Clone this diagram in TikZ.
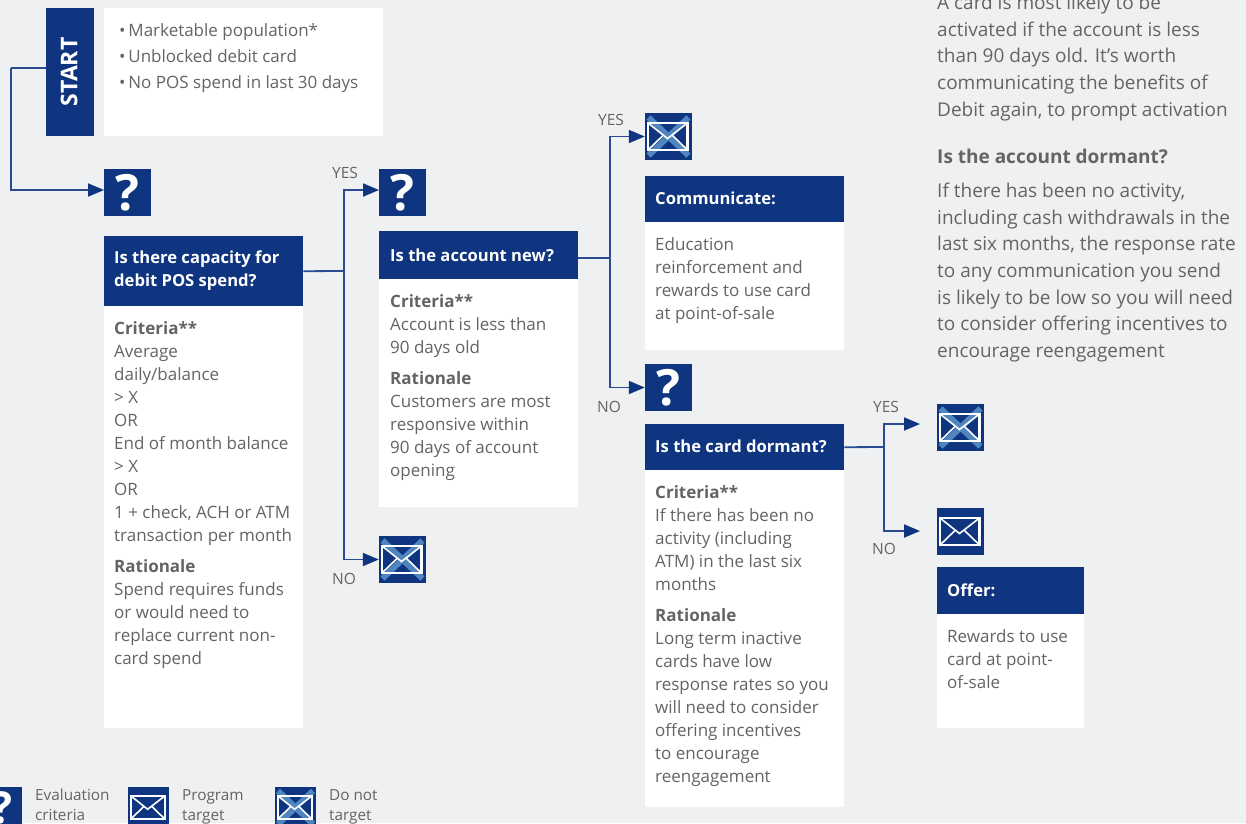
\documentclass[tikz,border=0pt]{standalone}
\usepackage{fontspec}
\setmainfont{Open Sans}
\usetikzlibrary{arrows.meta}
\definecolor{navy}{HTML}{0F3580}
\definecolor{bgc}{HTML}{EFF0F2}
\definecolor{txt}{HTML}{636466}
\definecolor{xblue}{HTML}{4F86C0}
\definecolor{linec}{HTML}{2A4B92}
\newcommand{\bodyf}{\fontsize{17}{23}\selectfont}
\newcommand{\sidef}{\fontsize{19}{26.6}\selectfont}
\newcommand{\headf}{\fontsize{16.6}{23}\selectfont\bfseries}
\newcommand{\crit}[1]{{\bfseries #1}}
\newcommand{\iconbase}[4]{\node[iconbox,minimum size=#4pt] (#1) at (#2,#3) {};}
\newcommand{\envelope}[3][47]{%
 \begin{scope}[shift={(#2,#3)},scale=#1/47]
 \draw[envl] (-20.5,-13.5) rectangle (19,13.5);
 \draw[envt] (-20.5,-13.5) -- (-1,2) -- (19,-13.5);
 \draw[envt] (-20.5,13.5) -- (-5,-1.5);
 \draw[envt] (19,13.5) -- (3.5,-1.5);
 \end{scope}}
\newcommand{\crossed}[3][47]{%
 \begin{scope}[shift={(#2,#3)},scale=#1/47]
 \draw[xl] (-20,-19) -- (20,19);
 \draw[xl] (20,-19) -- (-20,19);
 \end{scope}}
\tikzset{
 x=1pt,y=-1pt,
 panel/.style={fill=white,draw=none,anchor=north west,inner sep=0pt},
 iconbox/.style={fill=navy,inner sep=0pt,draw=none},
 qmark/.style={iconbox,minimum size=47pt,text=white,font=\fontsize{50}{50}\selectfont\bfseries},
 envl/.style={draw=white,line width=2.2pt},
 envt/.style={draw=white,line width=1.6pt},
 xl/.style={draw=xblue,line width=6pt},
 conn/.style={draw=linec,line width=1.8pt},
 arr/.style={conn,-{Triangle[length=16pt,width=13pt,color=navy]}},
 tb/.style={anchor=north west,inner sep=0pt,text=txt,align=left,font=\bodyf},
 sb/.style={anchor=north west,inner sep=0pt,text=txt,align=left,font=\sidef},
 yn/.style={inner sep=0pt,text=txt,font=\fontsize{15.5}{18}\selectfont},
 lg/.style={anchor=north west,inner sep=0pt,text=txt,align=left,font=\fontsize{15.3}{20}\selectfont},
}
\begin{document}
\begin{tikzpicture}
\clip (0,0) rectangle (1246,823);
\useasboundingbox (0,0) rectangle (1246,823);
\fill[bgc] (0,0) rectangle (1246,823);

\node[fill=navy,text=white,minimum width=128pt,minimum height=48pt,inner sep=0pt,rotate=90,font=\fontsize{23}{26}\selectfont\bfseries] (start) at (70,72) {\raisebox{2pt}{START}};
\node[panel,minimum width=279pt,minimum height=128pt] (startp) at (104,8) {};
\node[tb] (startt) at (119,23) {\textbullet\,Marketable population*\\[3pt]\textbullet\,Unblocked debit card\\[3pt]\textbullet\,No POS spend in last 30 days};

\node[qmark] (q1) at (127.5,192.5) {?};
\node[qmark] (q2) at (402.5,192.5) {?};
\node[qmark] (q3) at (668.5,387.5) {?};

\node[panel,minimum width=199pt,minimum height=422pt] (b1) at (104,306) {};
\node[fill=navy,minimum width=199pt,minimum height=70pt,anchor=north west,inner sep=0pt] (h1) at (104,236) {};
\node[anchor=west,inner sep=0pt,text=white,align=left,font=\headf] (h1t) at (114,271) {Is there capacity for\\debit POS spend?};
\node[tb] (t1) at (114,321) {\crit{Criteria**}\\Average\\daily/balance\\> X\\OR\\End of month balance\\> X\\OR\\1 + check, ACH or ATM\\transaction per month\\[8pt]\crit{Rationale}\\Spend requires funds\\or would need to\\replace current non-\\card spend};

\node[panel,minimum width=199pt,minimum height=228pt] (b2) at (379,279) {};
\node[fill=navy,minimum width=199pt,minimum height=48pt,anchor=north west,inner sep=0pt] (h2) at (379,231) {};
\node[anchor=west,inner sep=0pt,text=white,font=\headf] (h2t) at (390,255) {Is the account new?};
\node[tb] (t2) at (390,294) {\crit{Criteria**}\\Account is less than\\90 days old\\[8pt]\crit{Rationale}\\Customers are most\\responsive within\\90 days of account\\opening};

\node[panel,minimum width=199pt,minimum height=128pt] (b3) at (645,222) {};
\node[fill=navy,minimum width=199pt,minimum height=46pt,anchor=north west,inner sep=0pt] (h3) at (645,176) {};
\node[anchor=west,inner sep=0pt,text=white,font=\headf] (h3t) at (655,198) {Communicate:};
\node[tb] (t3) at (655,237) {Education\\reinforcement and\\rewards to use card\\at point-of-sale};

\node[panel,minimum width=199pt,minimum height=337pt] (b4) at (645,470) {};
\node[fill=navy,minimum width=199pt,minimum height=46pt,anchor=north west,inner sep=0pt] (h4) at (645,424) {};
\node[anchor=west,inner sep=0pt,text=white,font=\headf] (h4t) at (655,446) {Is the card dormant?};
\node[tb] (t4) at (655,485) {\crit{Criteria**}\\If there has been no\\activity (including\\ATM) in the last six\\months\\[8pt]\crit{Rationale}\\Long term inactive\\cards have low\\response rates so you\\will need to consider\\offering incentives\\to encourage\\reengagement};

\node[panel,minimum width=147pt,minimum height=114pt] (b5) at (937,614) {};
\node[fill=navy,minimum width=147pt,minimum height=47pt,anchor=north west,inner sep=0pt] (h5) at (937,567) {};
\node[anchor=west,inner sep=0pt,text=white,font=\headf] (h5t) at (947,590) {Offer:};
\node[tb] (t5) at (947,629) {Rewards to use\\card at point-\\of-sale};

\iconbase{m1}{402.5}{559.5}{47}\crossed{402.5}{559.5}\envelope{402.5}{559.5}
\iconbase{m2}{668.5}{136.5}{47}\crossed{668.5}{136.5}\envelope{668.5}{136.5}
\iconbase{m3}{960.5}{427.5}{47}\crossed{960.5}{427.5}\envelope{960.5}{427.5}
\iconbase{m4}{960.5}{531.5}{47}\envelope{960.5}{531.5}

\coordinate (j0) at (11,68);
\coordinate (j1) at (344,271);
\coordinate (j2) at (610,258);
\coordinate (j3) at (884,447);
\coordinate (e1) at (104,190);
\coordinate (e2) at (379,190);
\coordinate (e3) at (920,424);
\coordinate (e4) at (920,531);
\draw[conn] (start.north |- 0,68) -- (j0);
\draw[arr] (j0) |- (e1);
\draw[conn] (h1.east) -- (j1);
\draw[arr] (j1) |- (e2);
\draw[arr] (j1) |- (m1.west);
\draw[conn] (h2.east |- j2) -- (j2);
\draw[arr] (j2) |- (m2.west);
\draw[arr] (j2) |- (q3.west);
\draw[conn] (h4.east) -- (j3);
\draw[arr] (j3) |- (e3);
\draw[arr] (j3) |- (e4);

\node[yn] (y1) at (345,173) {YES};
\node[yn] (n1) at (344,579) {NO};
\node[yn] (y2) at (611,120) {YES};
\node[yn] (n2) at (609,407) {NO};
\node[yn] (y3) at (886,407) {YES};
\node[yn] (n3) at (884,549) {NO};

\node[sb] (s1) at (937,-5) {A card is most likely to be\\activated if the account is less\\than 90 days old. It's worth\\communicating the benefits of\\Debit again, to prompt activation};
\node[sb] (s2) at (937,149) {\bfseries Is the account dormant?};
\node[sb] (s3) at (937,183) {If there has been no activity,\\including cash withdrawals in the\\last six months, the response rate\\to any communication you send\\is likely to be low so you will need\\to consider offering incentives to\\encourage reengagement};

\node[iconbox,minimum size=41pt,text=white,font=\fontsize{44}{44}\selectfont\bfseries] (lq) at (1.5,807.5) {?};
\iconbase{lm}{148.5}{807.5}{41}\envelope[41]{148.5}{807.5}
\iconbase{lx}{295.5}{807.5}{41}\crossed[41]{295.5}{807.5}\envelope[41]{295.5}{807.5}
\node[lg] (l1) at (35,789) {Evaluation\\criteria};
\node[lg] (l2) at (182,789) {Program\\target};
\node[lg] (l3) at (329,789) {Do not\\target};
\end{tikzpicture}
\end{document}
